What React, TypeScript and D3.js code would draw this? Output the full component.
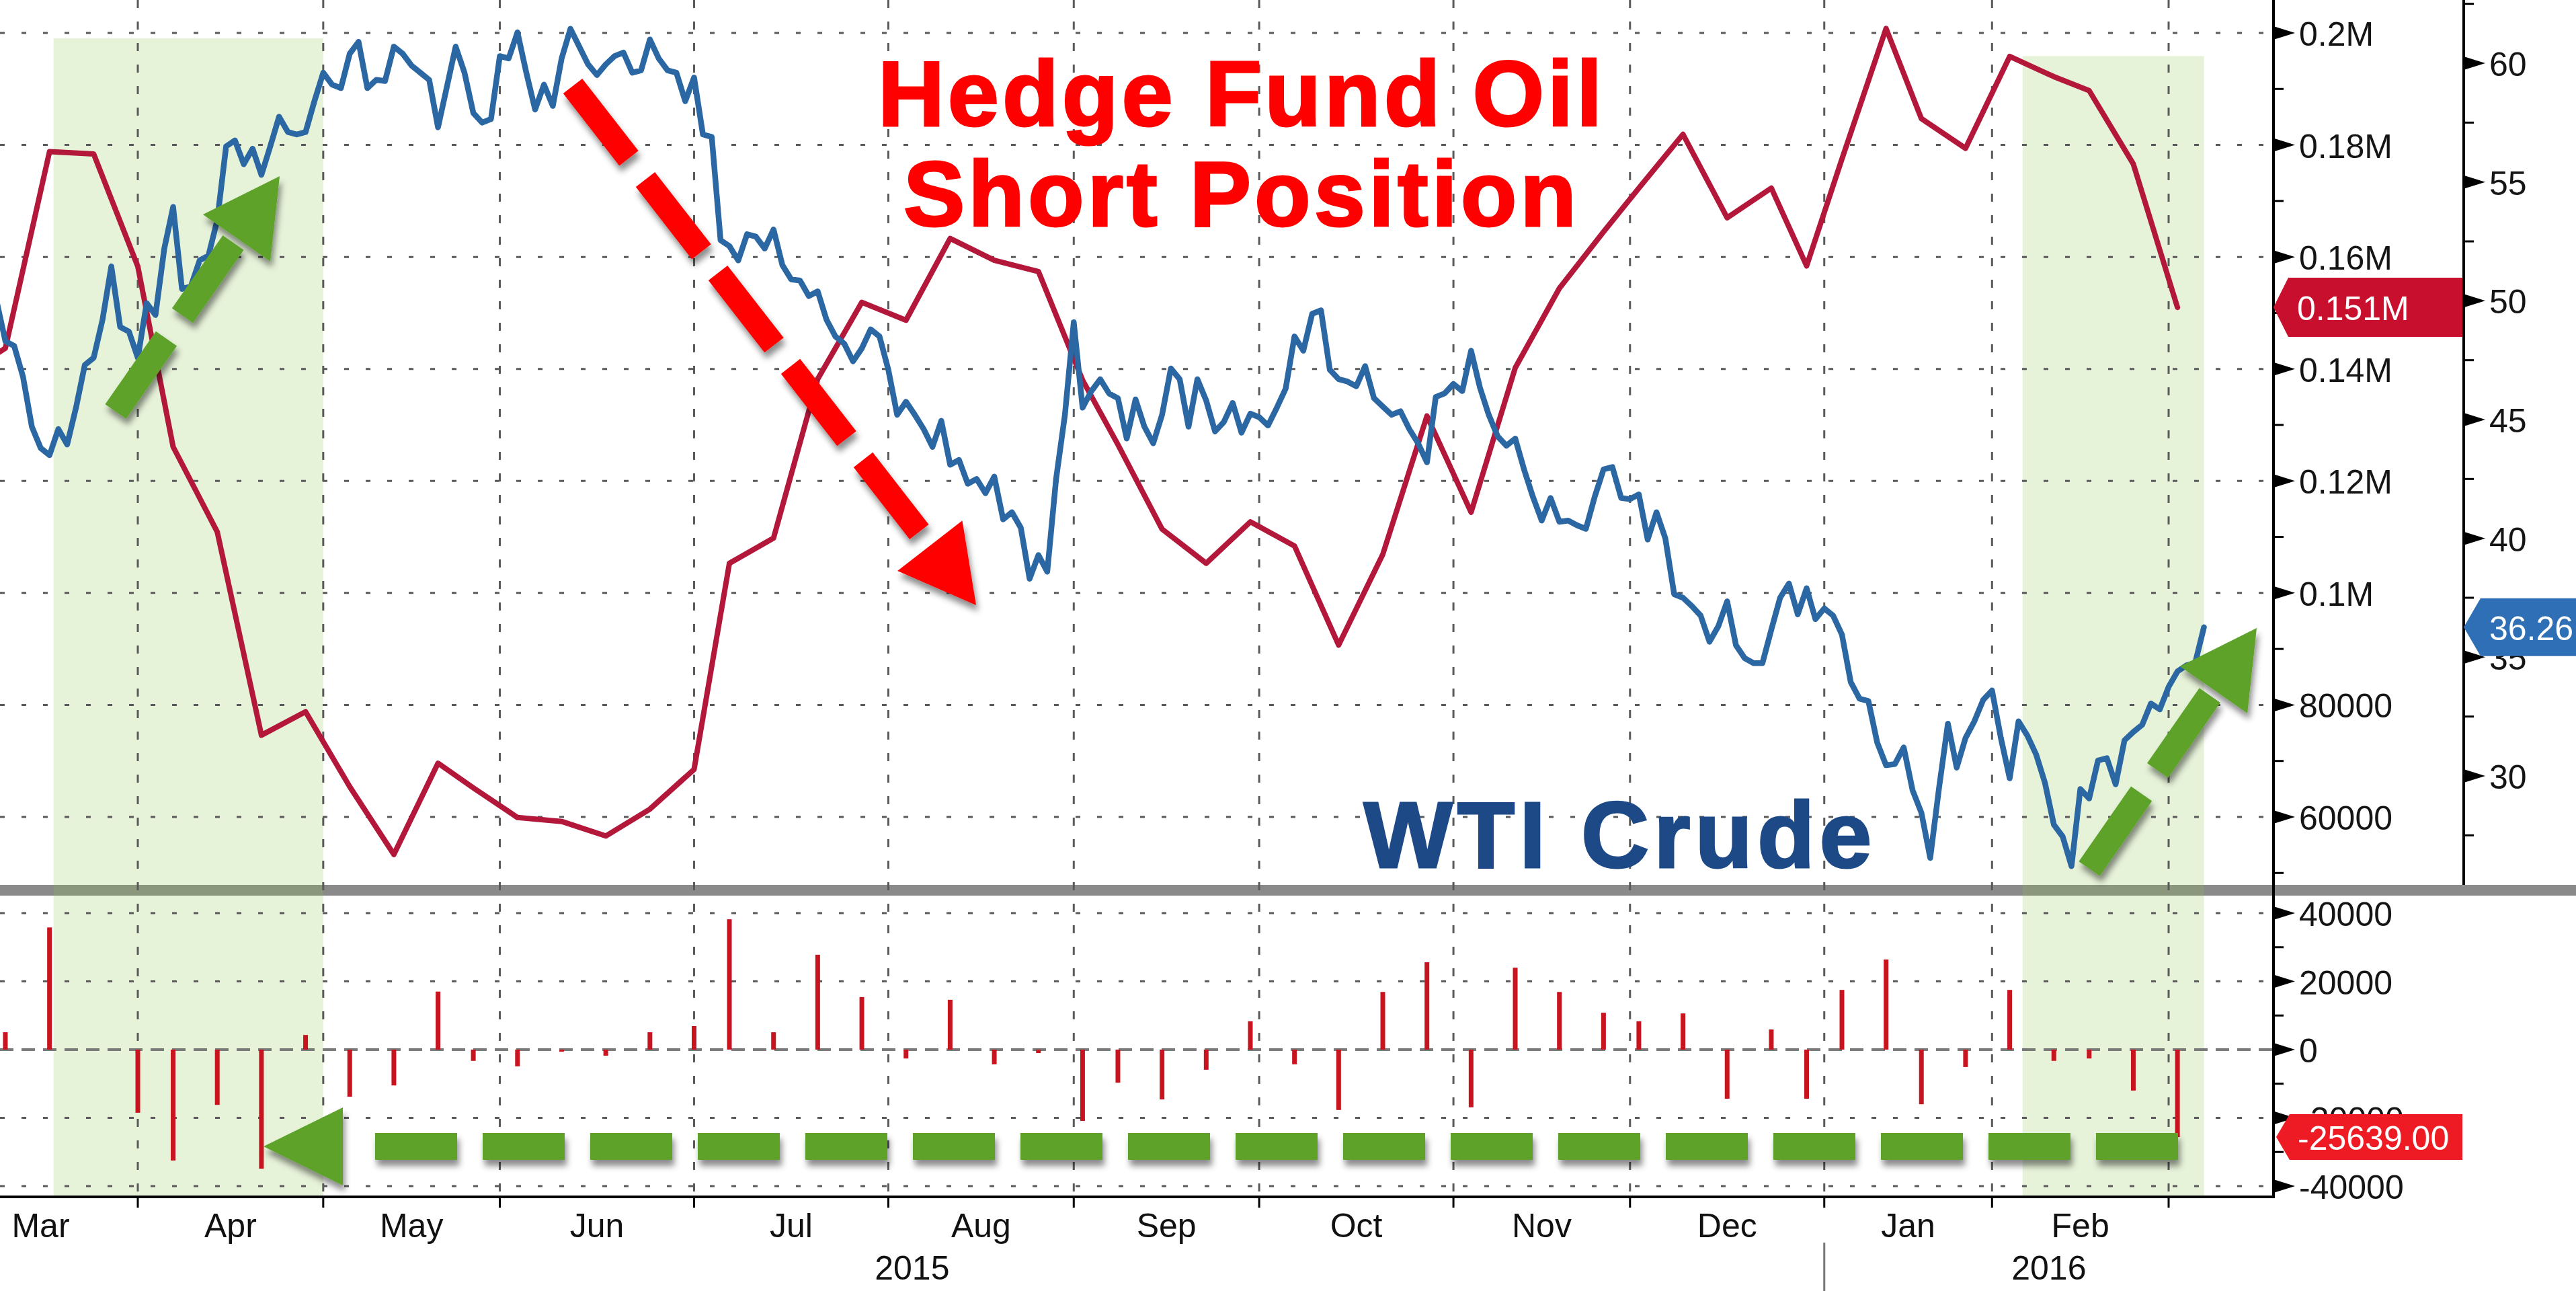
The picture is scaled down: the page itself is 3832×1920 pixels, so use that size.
import React from "react";
import * as d3 from "d3";

// ---------------- DATA ----------------
const HOLIDAYS = [
  "2015-02-16", "2015-04-03", "2015-05-25", "2015-07-03", "2015-09-07",
  "2015-11-26", "2015-12-25", "2016-01-01", "2016-01-18", "2016-02-15",
];

// WTI crude, daily
const WTI_PRICE: [string, number][] = [
  ["2015-03-09", 50.0], ["2015-03-10", 48.3], ["2015-03-11", 48.1], ["2015-03-12", 46.8],
  ["2015-03-13", 44.7], ["2015-03-16", 43.8], ["2015-03-17", 43.5], ["2015-03-18", 44.6],
  ["2015-03-19", 43.95], ["2015-03-20", 45.5], ["2015-03-23", 47.3], ["2015-03-24", 47.6],
  ["2015-03-25", 49.2], ["2015-03-26", 51.45], ["2015-03-27", 48.9], ["2015-03-30", 48.7],
  ["2015-03-31", 47.6], ["2015-04-01", 49.9], ["2015-04-02", 49.4], ["2015-04-06", 52.2],
  ["2015-04-07", 53.95], ["2015-04-08", 50.5], ["2015-04-09", 50.6], ["2015-04-10", 51.7],
  ["2015-04-13", 51.9], ["2015-04-14", 53.4], ["2015-04-15", 56.5], ["2015-04-16", 56.75],
  ["2015-04-17", 55.75], ["2015-04-20", 56.4], ["2015-04-21", 55.3], ["2015-04-22", 56.5],
  ["2015-04-23", 57.75], ["2015-04-24", 57.1], ["2015-04-27", 57.0], ["2015-04-28", 57.1],
  ["2015-04-29", 58.4], ["2015-04-30", 59.6], ["2015-05-01", 59.1], ["2015-05-04", 58.95],
  ["2015-05-05", 60.4], ["2015-05-06", 60.9], ["2015-05-07", 58.95], ["2015-05-08", 59.3],
  ["2015-05-11", 59.25], ["2015-05-12", 60.7], ["2015-05-13", 60.4], ["2015-05-14", 59.9],
  ["2015-05-15", 59.6], ["2015-05-18", 59.3], ["2015-05-19", 57.3], ["2015-05-20", 59.0],
  ["2015-05-21", 60.7], ["2015-05-22", 59.6], ["2015-05-26", 57.9], ["2015-05-27", 57.5],
  ["2015-05-28", 57.65], ["2015-05-29", 60.3], ["2015-06-01", 60.2], ["2015-06-02", 61.3],
  ["2015-06-03", 59.6], ["2015-06-04", 58.05], ["2015-06-05", 59.1], ["2015-06-08", 58.2],
  ["2015-06-09", 60.2], ["2015-06-10", 61.45], ["2015-06-11", 60.7], ["2015-06-12", 59.95],
  ["2015-06-15", 59.5], ["2015-06-16", 59.95], ["2015-06-17", 60.3], ["2015-06-18", 60.45],
  ["2015-06-19", 59.6], ["2015-06-22", 59.7], ["2015-06-23", 61.0], ["2015-06-24", 60.2],
  ["2015-06-25", 59.7], ["2015-06-26", 59.6], ["2015-06-29", 58.4], ["2015-06-30", 59.4],
  ["2015-07-01", 57.0], ["2015-07-02", 56.9], ["2015-07-06", 52.55], ["2015-07-07", 52.3],
  ["2015-07-08", 51.7], ["2015-07-09", 52.8], ["2015-07-10", 52.7], ["2015-07-13", 52.2],
  ["2015-07-14", 53.0], ["2015-07-15", 51.5], ["2015-07-16", 50.9], ["2015-07-17", 50.85],
  ["2015-07-20", 50.2], ["2015-07-21", 50.4], ["2015-07-22", 49.2], ["2015-07-23", 48.5],
  ["2015-07-24", 48.2], ["2015-07-27", 47.45], ["2015-07-28", 48.0], ["2015-07-29", 48.8],
  ["2015-07-30", 48.5], ["2015-07-31", 47.1], ["2015-08-03", 45.2], ["2015-08-04", 45.75],
  ["2015-08-05", 45.2], ["2015-08-06", 44.6], ["2015-08-07", 43.85], ["2015-08-10", 44.95],
  ["2015-08-11", 43.1], ["2015-08-12", 43.3], ["2015-08-13", 42.3], ["2015-08-14", 42.5],
  ["2015-08-17", 41.9], ["2015-08-18", 42.6], ["2015-08-19", 40.8], ["2015-08-20", 41.1],
  ["2015-08-21", 40.45], ["2015-08-24", 38.3], ["2015-08-25", 39.3], ["2015-08-26", 38.6],
  ["2015-08-27", 42.5], ["2015-08-28", 45.2], ["2015-08-31", 49.1], ["2015-09-01", 45.5],
  ["2015-09-02", 46.2], ["2015-09-03", 46.7], ["2015-09-04", 46.1], ["2015-09-08", 45.9],
  ["2015-09-09", 44.2], ["2015-09-10", 45.85], ["2015-09-11", 44.7], ["2015-09-14", 44.0],
  ["2015-09-15", 45.2], ["2015-09-16", 47.15], ["2015-09-17", 46.7], ["2015-09-18", 44.7],
  ["2015-09-21", 46.7], ["2015-09-22", 45.8], ["2015-09-23", 44.5], ["2015-09-24", 44.9],
  ["2015-09-25", 45.7], ["2015-09-28", 44.45], ["2015-09-29", 45.25], ["2015-09-30", 45.1],
  ["2015-10-01", 44.75], ["2015-10-02", 45.5], ["2015-10-05", 46.3], ["2015-10-06", 48.5],
  ["2015-10-07", 47.9], ["2015-10-08", 49.45], ["2015-10-09", 49.6], ["2015-10-12", 47.1],
  ["2015-10-13", 46.7], ["2015-10-14", 46.6], ["2015-10-15", 46.4], ["2015-10-16", 47.25],
  ["2015-10-19", 45.9], ["2015-10-20", 45.55], ["2015-10-21", 45.2], ["2015-10-22", 45.35],
  ["2015-10-23", 44.6], ["2015-10-26", 44.0], ["2015-10-27", 43.2], ["2015-10-28", 45.95],
  ["2015-10-29", 46.1], ["2015-10-30", 46.5], ["2015-11-02", 46.2], ["2015-11-03", 47.9],
  ["2015-11-04", 46.35], ["2015-11-05", 45.2], ["2015-11-06", 44.3], ["2015-11-09", 43.9],
  ["2015-11-10", 44.2], ["2015-11-11", 42.9], ["2015-11-12", 41.75], ["2015-11-13", 40.75],
  ["2015-11-16", 41.7], ["2015-11-17", 40.7], ["2015-11-18", 40.75], ["2015-11-19", 40.55],
  ["2015-11-20", 40.4], ["2015-11-23", 41.75], ["2015-11-24", 42.9], ["2015-11-25", 43.0],
  ["2015-11-27", 41.7], ["2015-11-30", 41.65], ["2015-12-01", 41.85], ["2015-12-02", 39.95],
  ["2015-12-03", 41.1], ["2015-12-04", 40.0], ["2015-12-07", 37.65], ["2015-12-08", 37.5],
  ["2015-12-09", 37.15], ["2015-12-10", 36.75], ["2015-12-11", 35.65], ["2015-12-14", 36.3],
  ["2015-12-15", 37.35], ["2015-12-16", 35.5], ["2015-12-17", 34.95], ["2015-12-18", 34.75],
  ["2015-12-21", 34.75], ["2015-12-22", 36.15], ["2015-12-23", 37.5], ["2015-12-24", 38.1],
  ["2015-12-28", 36.8], ["2015-12-29", 37.9], ["2015-12-30", 36.6], ["2015-12-31", 37.05],
  ["2016-01-04", 36.75], ["2016-01-05", 35.95], ["2016-01-06", 33.95], ["2016-01-07", 33.25],
  ["2016-01-08", 33.15], ["2016-01-11", 31.4], ["2016-01-12", 30.45], ["2016-01-13", 30.5],
  ["2016-01-14", 31.2], ["2016-01-15", 29.4], ["2016-01-19", 28.45], ["2016-01-20", 26.55],
  ["2016-01-21", 29.5], ["2016-01-22", 32.2], ["2016-01-25", 30.35], ["2016-01-26", 31.6],
  ["2016-01-27", 32.3], ["2016-01-28", 33.2], ["2016-01-29", 33.6], ["2016-02-01", 31.6],
  ["2016-02-02", 29.9], ["2016-02-03", 32.3], ["2016-02-04", 31.7], ["2016-02-05", 30.9],
  ["2016-02-08", 29.7], ["2016-02-09", 27.95], ["2016-02-10", 27.45], ["2016-02-11", 26.2],
  ["2016-02-12", 29.45], ["2016-02-16", 29.05], ["2016-02-17", 30.65], ["2016-02-18", 30.75],
  ["2016-02-19", 29.65], ["2016-02-22", 31.5], ["2016-02-23", 31.85], ["2016-02-24", 32.15],
  ["2016-02-25", 33.05], ["2016-02-26", 32.8], ["2016-02-29", 33.75], ["2016-03-01", 34.4],
  ["2016-03-02", 34.65], ["2016-03-03", 34.75], ["2016-03-04", 36.26],
];

// Hedge fund short position, weekly (Tuesday)
const SHORT_POSITION: [string, number][] = [
  ["2015-03-03", 138600], ["2015-03-10", 143700], ["2015-03-17", 178800], ["2015-03-24", 178400],
  ["2015-03-31", 158300], ["2015-04-07", 126100], ["2015-04-14", 110900], ["2015-04-21", 74600],
  ["2015-04-28", 78800], ["2015-05-05", 65400], ["2015-05-12", 53300], ["2015-05-19", 69600],
  ["2015-05-26", 65200], ["2015-06-02", 59900], ["2015-06-09", 59200], ["2015-06-16", 56600],
  ["2015-06-23", 61400], ["2015-06-30", 68500], ["2015-07-07", 105300], ["2015-07-14", 109800],
  ["2015-07-21", 138200], ["2015-07-28", 151900], ["2015-08-04", 148700], ["2015-08-11", 163300],
  ["2015-08-18", 159400], ["2015-08-25", 157400], ["2015-09-01", 138000], ["2015-09-08", 126500],
  ["2015-09-15", 111400], ["2015-09-22", 105300], ["2015-09-29", 112700], ["2015-10-06", 108400],
  ["2015-10-13", 90700], ["2015-10-20", 106900], ["2015-10-27", 131600], ["2015-11-03", 114400],
  ["2015-11-10", 140200], ["2015-11-17", 154400], ["2015-11-24", 164500], ["2015-12-01", 172300],
  ["2015-12-08", 181900], ["2015-12-15", 167000], ["2015-12-22", 172300], ["2015-12-29", 158400],
  ["2016-01-05", 177500], ["2016-01-12", 200800], ["2016-01-19", 184700], ["2016-01-26", 179400],
  ["2016-02-02", 195800], ["2016-02-09", 192200], ["2016-02-16", 189700], ["2016-02-23", 176600],
  ["2016-03-01", 151000],
];

// Weekly change of the short position
const WEEKLY_CHANGE: [string, number][] = [
  ["2015-03-10", 5100], ["2015-03-17", 35800], ["2015-03-24", 0], ["2015-03-31", -18500],
  ["2015-04-07", -32500], ["2015-04-14", -16200], ["2015-04-21", -34900], ["2015-04-28", 4300],
  ["2015-05-05", -13800], ["2015-05-12", -10500], ["2015-05-19", 17000], ["2015-05-26", -3300],
  ["2015-06-02", -4900], ["2015-06-09", -600], ["2015-06-16", -1800], ["2015-06-23", 5100],
  ["2015-06-30", 6900], ["2015-07-07", 38200], ["2015-07-14", 5100], ["2015-07-21", 27800],
  ["2015-07-28", 15400], ["2015-08-04", -2600], ["2015-08-11", 14600], ["2015-08-18", -4300],
  ["2015-08-25", -1000], ["2015-09-01", -20900], ["2015-09-08", -9700], ["2015-09-15", -14600],
  ["2015-09-22", -5900], ["2015-09-29", 8300], ["2015-10-06", -4300], ["2015-10-13", -17700],
  ["2015-10-20", 16900], ["2015-10-27", 25600], ["2015-11-03", -16900], ["2015-11-10", 24000],
  ["2015-11-17", 16900], ["2015-11-24", 10800], ["2015-12-01", 8300], ["2015-12-08", 10600],
  ["2015-12-15", -14400], ["2015-12-22", 5900], ["2015-12-29", -14400], ["2016-01-05", 17500],
  ["2016-01-12", 26400], ["2016-01-19", -16000], ["2016-01-26", -5100], ["2016-02-02", 17500],
  ["2016-02-09", -3300], ["2016-02-16", -2600], ["2016-02-23", -12000], ["2016-03-01", -25639],
];

const POSITION_TICKS = [60000, 80000, 100000, 120000, 140000, 160000, 180000, 200000];
const POSITION_TICK_LABELS = ["60000", "80000", "0.1M", "0.12M", "0.14M", "0.16M", "0.18M", "0.2M"];
const PRICE_TICKS = [30, 35, 40, 45, 50, 55, 60];
const CHANGE_TICKS = [-40000, -20000, 0, 20000, 40000];
const SHADED_PERIODS: [string, string, number][] = [
  ["2015-03-17", "2015-04-30", 61.05],
  ["2016-02-03", "2016-03-04", 60.3],
];
const LAST_POSITION_LABEL = "0.151M";
const LAST_PRICE_LABEL = "36.26";
const LAST_CHANGE_LABEL = "-25639.00";
const TITLE_LINES = ["Hedge Fund Oil", "Short Position"];
const SERIES_LABEL = "WTI Crude";

// ---------------- LAYOUT ----------------
const W = 3832;
const H = 1920;
const PLOT_LEFT = 0;
const POS_AXIS_X = 3382;
const PRICE_AXIS_X = 3665;
const TOP_BOTTOM = 1316;
const BAND_H = 16;
const BOTTOM_AXIS_Y = 1780;
const FONT = "'Liberation Sans', Arial, sans-serif";

const RED_LINE = "#b3173a";
const BLUE_LINE = "#2b67a3";
const BAR_RED = "#c8141e";
const ARROW_GREEN = "#5ea22c";
const GRID = "#5a5a5a";

// trading-day calendar
const fmt = d3.utcFormat("%Y-%m-%d");
const ALL_DAYS = d3
  .utcDay.range(new Date(Date.UTC(2015, 1, 2)), new Date(Date.UTC(2016, 3, 1)))
  .filter((d) => d.getUTCDay() !== 0 && d.getUTCDay() !== 6)
  .map(fmt)
  .filter((s) => !HOLIDAYS.includes(s));
const DAY_INDEX = new Map(ALL_DAYS.map((s, i) => [s, i] as [string, number]));
const idx = (s: string) => DAY_INDEX.get(s) as number;

const x = d3.scaleLinear().domain([idx("2015-03-31"), idx("2016-02-29")]).range([205, 3226]);
const yPos = d3.scaleLinear().domain([60000, 200000]).range([1215, 49]);
const yPrice = d3.scaleLinear().domain([30, 60]).range([1154, 94]);
const yChg = d3.scaleLinear().domain([-40000, 40000]).range([1764, 1358]);

function tagPath(xTip: number, yc: number, xRight: number, h: number, notch: number) {
  return `M${xTip},${yc} L${xTip + notch},${yc - h / 2} L${xRight},${yc - h / 2} L${xRight},${yc + h / 2} L${xTip + notch},${yc + h / 2} Z`;
}

type ArrowProps = {
  x1: number; y1: number; x2: number; y2: number; color: string;
  width: number; dash: number; gap: number; headLen: number; headW: number; headGap: number;
};
function DashedArrow({ x1, y1, x2, y2, color, width, dash, gap, headLen, headW, headGap }: ArrowProps) {
  const dx = x2 - x1, dy = y2 - y1;
  const len = Math.hypot(dx, dy);
  const ux = dx / len, uy = dy / len;
  const px = -uy, py = ux;
  const bx = x2 - ux * headLen, by = y2 - uy * headLen;
  const sx = bx - ux * headGap, sy = by - uy * headGap;
  const head = `M${x2},${y2} L${bx + (px * headW) / 2},${by + (py * headW) / 2} L${bx - (px * headW) / 2},${by - (py * headW) / 2} Z`;
  return (
    <g filter="url(#shadow)">
      <line x1={x1} y1={y1} x2={sx} y2={sy} stroke={color} strokeWidth={width} strokeDasharray={`${dash} ${gap}`} />
      <path d={head} fill={color} />
    </g>
  );
}

export default function App() {
  const plotRight = POS_AXIS_X;

  const monthStarts = d3.utcMonth.range(new Date(Date.UTC(2015, 2, 1)), new Date(Date.UTC(2016, 3, 1)));
  const tickIdx = monthStarts.map((m) => ALL_DAYS.findIndex((d) => d >= fmt(m)) - 1);
  const monthTicks = tickIdx.map((i) => x(i));
  const monthLabels = monthStarts.slice(0, -1).map((m, i) => ({
    label: d3.utcFormat("%b")(m),
    cx: (monthTicks[i] + monthTicks[i + 1]) / 2,
  }));
  const visibleTicks = monthTicks.filter((t) => t > PLOT_LEFT && t < plotRight);
  const janTick = monthTicks[monthStarts.findIndex((m) => m.getUTCFullYear() === 2016)];

  const redLine = d3
    .line<[string, number]>()
    .x((d) => x(idx(d[0])))
    .y((d) => yPos(d[1]))(SHORT_POSITION);
  const blueLine = d3
    .line<[string, number]>()
    .x((d) => x(idx(d[0])))
    .y((d) => yPrice(d[1]))(WTI_PRICE);

  const minorPos = d3.range(50000, 200001, 20000);
  const minorPrice = [27.5, 32.5, 37.5, 42.5, 47.5, 52.5, 57.5, 62.5];
  const minorChg = [-30000, -10000, 10000, 30000];

  const tri = (ax: number, y: number) => `M${ax},${y - 10} L${ax},${y + 10} L${ax + 32},${y} Z`;

  const lastPos = SHORT_POSITION[SHORT_POSITION.length - 1][1];
  const lastPrice = WTI_PRICE[WTI_PRICE.length - 1][1];
  const lastChg = WEEKLY_CHANGE[WEEKLY_CHANGE.length - 1][1];

  return (
    <svg width={W} height={H} style={{ position: "absolute", left: 0, top: 0, background: "#fff" }} fontFamily={FONT}>
      <defs>
        <clipPath id="topClip">
          <rect x={PLOT_LEFT} y={0} width={plotRight - PLOT_LEFT} height={TOP_BOTTOM} />
        </clipPath>
        <clipPath id="botClip">
          <rect x={PLOT_LEFT} y={TOP_BOTTOM + BAND_H} width={plotRight - PLOT_LEFT} height={BOTTOM_AXIS_Y - TOP_BOTTOM - BAND_H} />
        </clipPath>
        <filter id="shadow" x="-20%" y="-20%" width="140%" height="150%">
          <feDropShadow dx="3" dy="9" stdDeviation="5" floodColor="#000" floodOpacity="0.45" />
        </filter>
      </defs>
      <rect x={0} y={0} width={W} height={H} fill="#fff" />

      <rect x={0} y={TOP_BOTTOM} width={W} height={BAND_H} fill="#8a8a8a" />

      {SHADED_PERIODS.map(([a, b, top], i) => (
        <rect key={i} x={x(idx(a)) + 6} y={yPrice(top)} width={x(idx(b)) - x(idx(a)) - 6} height={BOTTOM_AXIS_Y - yPrice(top)}
          fill="#8cc850" fillOpacity={0.22} />
      ))}

      <g clipPath="url(#topClip)">
        {POSITION_TICKS.map((v) => (
          <line key={v} x1={PLOT_LEFT} x2={plotRight} y1={yPos(v)} y2={yPos(v)} stroke={GRID} strokeWidth={3} strokeDasharray="7 25" />
        ))}
      </g>
      <g clipPath="url(#botClip)">
        {CHANGE_TICKS.filter((v) => v !== 0).map((v) => (
          <line key={v} x1={PLOT_LEFT} x2={plotRight} y1={yChg(v)} y2={yChg(v)} stroke={GRID} strokeWidth={3} strokeDasharray="7 25" />
        ))}
        <line x1={PLOT_LEFT} x2={plotRight} y1={yChg(0)} y2={yChg(0)} stroke="#7a7a7a" strokeWidth={4} strokeDasharray="20 12" />
      </g>
      {visibleTicks.map((t, i) => (
        <line key={i} x1={t} x2={t} y1={0} y2={BOTTOM_AXIS_Y} stroke={GRID} strokeWidth={3} strokeDasharray="12 20" />
      ))}

      <g clipPath="url(#botClip)">
        {WEEKLY_CHANGE.map(([d, v]) => (
          <rect key={d} x={x(idx(d)) - 3.5} width={7} y={Math.min(yChg(v), yChg(0))} height={Math.abs(yChg(v) - yChg(0))} fill={BAR_RED} />
        ))}
      </g>

      <g clipPath="url(#topClip)" fill="none" strokeLinejoin="round" strokeLinecap="round">
        <path d={redLine || ""} stroke={RED_LINE} strokeWidth={8} />
        <path d={blueLine || ""} stroke={BLUE_LINE} strokeWidth={8.5} />
      </g>

      <g fontWeight="bold" textAnchor="middle">
        <text x={1847} y={187} fontSize={137} fill="#ff0000" stroke="#ff0000" strokeWidth={3} letterSpacing={5}>{TITLE_LINES[0]}</text>
        <text x={1847} y={336} fontSize={137} fill="#ff0000" stroke="#ff0000" strokeWidth={3} letterSpacing={5}>{TITLE_LINES[1]}</text>
        <text x={2410} y={1290} fontSize={140} fill="#1d4a87" stroke="#1d4a87" strokeWidth={3} letterSpacing={7}>{SERIES_LABEL}</text>
      </g>

      <DashedArrow x1={172} y1={612} x2={416} y2={262} color={ARROW_GREEN} width={38} dash={132} gap={42} headLen={112} headW={122} headGap={6} />
      <DashedArrow x1={852} y1={128} x2={1452} y2={900} color="#ff0000" width={36} dash={136} gap={40} headLen={112} headW={122} headGap={26} />
      <DashedArrow x1={3108} y1={1292} x2={3357} y2={934} color={ARROW_GREEN} width={38} dash={136} gap={42} headLen={112} headW={122} headGap={8} />
      <DashedArrow x1={3240} y1={1705} x2={392} y2={1705} color={ARROW_GREEN} width={40} dash={122} gap={38} headLen={118} headW={116} headGap={32} />

      <g stroke="#000">
        <line x1={POS_AXIS_X} x2={POS_AXIS_X} y1={0} y2={BOTTOM_AXIS_Y + 2} strokeWidth={4} />
        <line x1={PRICE_AXIS_X} x2={PRICE_AXIS_X} y1={0} y2={TOP_BOTTOM} strokeWidth={4} />
        <line x1={0} x2={POS_AXIS_X + 2} y1={BOTTOM_AXIS_Y} y2={BOTTOM_AXIS_Y} strokeWidth={4} />
        {visibleTicks.map((t, i) => (
          <line key={i} x1={t} x2={t} y1={BOTTOM_AXIS_Y} y2={BOTTOM_AXIS_Y + 16} strokeWidth={3} />
        ))}
        {minorPos.map((v) => (
          <line key={v} x1={POS_AXIS_X} x2={POS_AXIS_X + 15} y1={yPos(v)} y2={yPos(v)} strokeWidth={3} />
        ))}
        {minorPrice.map((v) => (
          <line key={v} x1={PRICE_AXIS_X} x2={PRICE_AXIS_X + 15} y1={yPrice(v)} y2={yPrice(v)} strokeWidth={3} />
        ))}
        {minorChg.map((v) => (
          <line key={v} x1={POS_AXIS_X} x2={POS_AXIS_X + 15} y1={yChg(v)} y2={yChg(v)} strokeWidth={3} />
        ))}
      </g>
      <g fill="#000">
        {POSITION_TICKS.map((v) => <path key={v} d={tri(POS_AXIS_X, yPos(v))} />)}
        {PRICE_TICKS.map((v) => <path key={v} d={tri(PRICE_AXIS_X, yPrice(v))} />)}
        {CHANGE_TICKS.map((v) => <path key={v} d={tri(POS_AXIS_X, yChg(v))} />)}
      </g>
      <g fontSize={50} fill="#151515" dominantBaseline="central">
        {POSITION_TICKS.map((v, i) => (
          <text key={v} x={3420} y={yPos(v) + 2}>{POSITION_TICK_LABELS[i]}</text>
        ))}
        {PRICE_TICKS.map((v) => (
          <text key={v} x={3703} y={yPrice(v) + 2}>{v}</text>
        ))}
        {CHANGE_TICKS.map((v) => (
          <text key={v} x={3420} y={yChg(v) + 2}>{v}</text>
        ))}
      </g>

      <path d={tagPath(POS_AXIS_X, yPos(lastPos), 3663, 88, 22)} fill="#c8102e" />
      <text x={3417} y={yPos(lastPos) + 2} fontSize={50} fill="#fff" dominantBaseline="central">{LAST_POSITION_LABEL}</text>
      <path d={tagPath(PRICE_AXIS_X, yPrice(lastPrice), W + 2, 86, 25)} fill="#2f6fb5" />
      <text x={3703} y={yPrice(lastPrice) + 2} fontSize={50} fill="#fff" dominantBaseline="central">{LAST_PRICE_LABEL}</text>
      <path d={tagPath(POS_AXIS_X + 4, yChg(lastChg), 3663, 68, 20)} fill="#ee1b24" />
      <text x={3418} y={yChg(lastChg) + 2} fontSize={50} fill="#fff" dominantBaseline="central">{LAST_CHANGE_LABEL}</text>

      <g fontSize={50} fill="#111" textAnchor="middle">
        {monthLabels.filter((m) => m.cx > 0 && m.cx < plotRight).map((m, i) => (
          <text key={i} x={m.cx} y={1840}>{m.label}</text>
        ))}
        <text x={(PLOT_LEFT + janTick) / 2} y={1903}>2015</text>
        <text x={(janTick + plotRight) / 2} y={1903}>2016</text>
      </g>
      <line x1={janTick} x2={janTick} y1={1848} y2={H} stroke="#777" strokeWidth={3} />
    </svg>
  );
}
